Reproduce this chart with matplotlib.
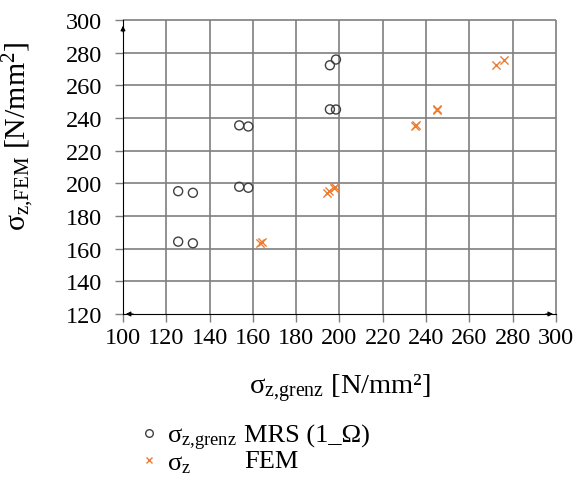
import numpy as np
import matplotlib.pyplot as plt

plt.rcParams['font.family'] = ['Liberation Serif', 'DejaVu Serif']
plt.rcParams['mathtext.fontset'] = 'custom'
plt.rcParams['mathtext.rm'] = 'Liberation Serif'
plt.rcParams['mathtext.it'] = 'Liberation Serif:italic'

# # sigma_z,grenz (MRS 1_Omega) vs sigma_z,FEM
sigma_grenz = [125.5, 132.3, 125.5, 132.3, 153.7, 157.9, 153.7, 157.9, 195.6, 198.4, 195.6, 198.4]
sigma_fem = [164.3, 163.3, 195.2, 194.2, 197.9, 197.3, 235.5, 234.8, 245.3, 245.2, 272.3, 275.8]

# # FEM reference points lie on the diagonal (sigma_z vs sigma_z)
sigma_z = sigma_fem

x_ticks = np.arange(100, 301, 20)
y_ticks = np.arange(120, 301, 20)

legend_labels = [r'σ$_{\mathrm{z{,}grenz}}$', r'σ$_{\mathrm{z}}$']
legend_methods = ['MRS (1_Ω)', 'FEM']

grid_color = '#7f7f7f'
orange = '#ED7D31'

fig = plt.figure(figsize=(5.87, 4.85), dpi=100)
ax = fig.add_axes([0.2095, 0.3505, 0.7375, 0.6062])

# # grid lines as line collections
ax.vlines(x_ticks[1:], y_ticks[0], y_ticks[-1], colors=grid_color, linewidth=1.2, zorder=1, clip_on=False)
ax.hlines(y_ticks[1:], x_ticks[0], x_ticks[-1], colors=grid_color, linewidth=1.2, zorder=1, clip_on=False)

ax.scatter(sigma_grenz, sigma_fem, s=42, facecolors='none', edgecolors='#404040', linewidths=1.0, zorder=3)
ax.scatter(sigma_z, sigma_z, s=35, marker='x', color=orange, linewidths=1.0, zorder=3)

ax.set_xlim(100, 300)
ax.set_ylim(120, 300)
ax.set_xticks(x_ticks)
ax.set_yticks(y_ticks)

for s in ['top', 'right']:
    ax.spines[s].set_visible(False)

ax.tick_params(axis='both', direction='out', length=6, width=1.0, color=grid_color, labelsize=17.5)
ax.tick_params(axis='x', pad=3)
ax.tick_params(axis='y', pad=9)

# # axis arrows
arrow = dict(arrowstyle='-|>', color='black', lw=0.8, mutation_scale=7)
ax.annotate('', xy=(1.0, 0), xytext=(0.97, 0), xycoords='axes fraction', arrowprops=arrow)
ax.annotate('', xy=(0.0, 0), xytext=(0.03, 0), xycoords='axes fraction', arrowprops=arrow)
ax.annotate('', xy=(0, 0.99), xytext=(0, 0.95), xycoords='axes fraction', arrowprops=arrow)

ax.set_xlabel(r'σ$_{\mathrm{z{,}grenz}}$ [N/mm²]', fontsize=20.5)
ax.xaxis.set_label_coords(0.5, -0.195)
ax.set_ylabel(r'σ$_{\mathrm{z{,}FEM}}$ [N/mm$^2$]', fontsize=21.5)
ax.yaxis.set_label_coords(-0.198, 0.607)

# # legend below the plot
leg = ax.legend(
    handles=[
        plt.Line2D([], [], marker='o', markersize=5.5, markerfacecolor='none', markeredgecolor='#404040', linestyle='none'),
        plt.Line2D([], [], marker='x', markersize=5, color=orange, linestyle='none'),
    ],
    labels=legend_labels, loc='upper left', bbox_to_anchor=(0.0, -0.33), frameon=False,
    fontsize=19, handlelength=1.0, handletextpad=0.17, labelspacing=-0.05, borderpad=0)
for txt, y in zip(legend_methods, [436, 462]):
    fig.text(244 / 587, 1 - y / 485, txt, fontsize=19, va='center')

plt.savefig('out.png', dpi=100)
